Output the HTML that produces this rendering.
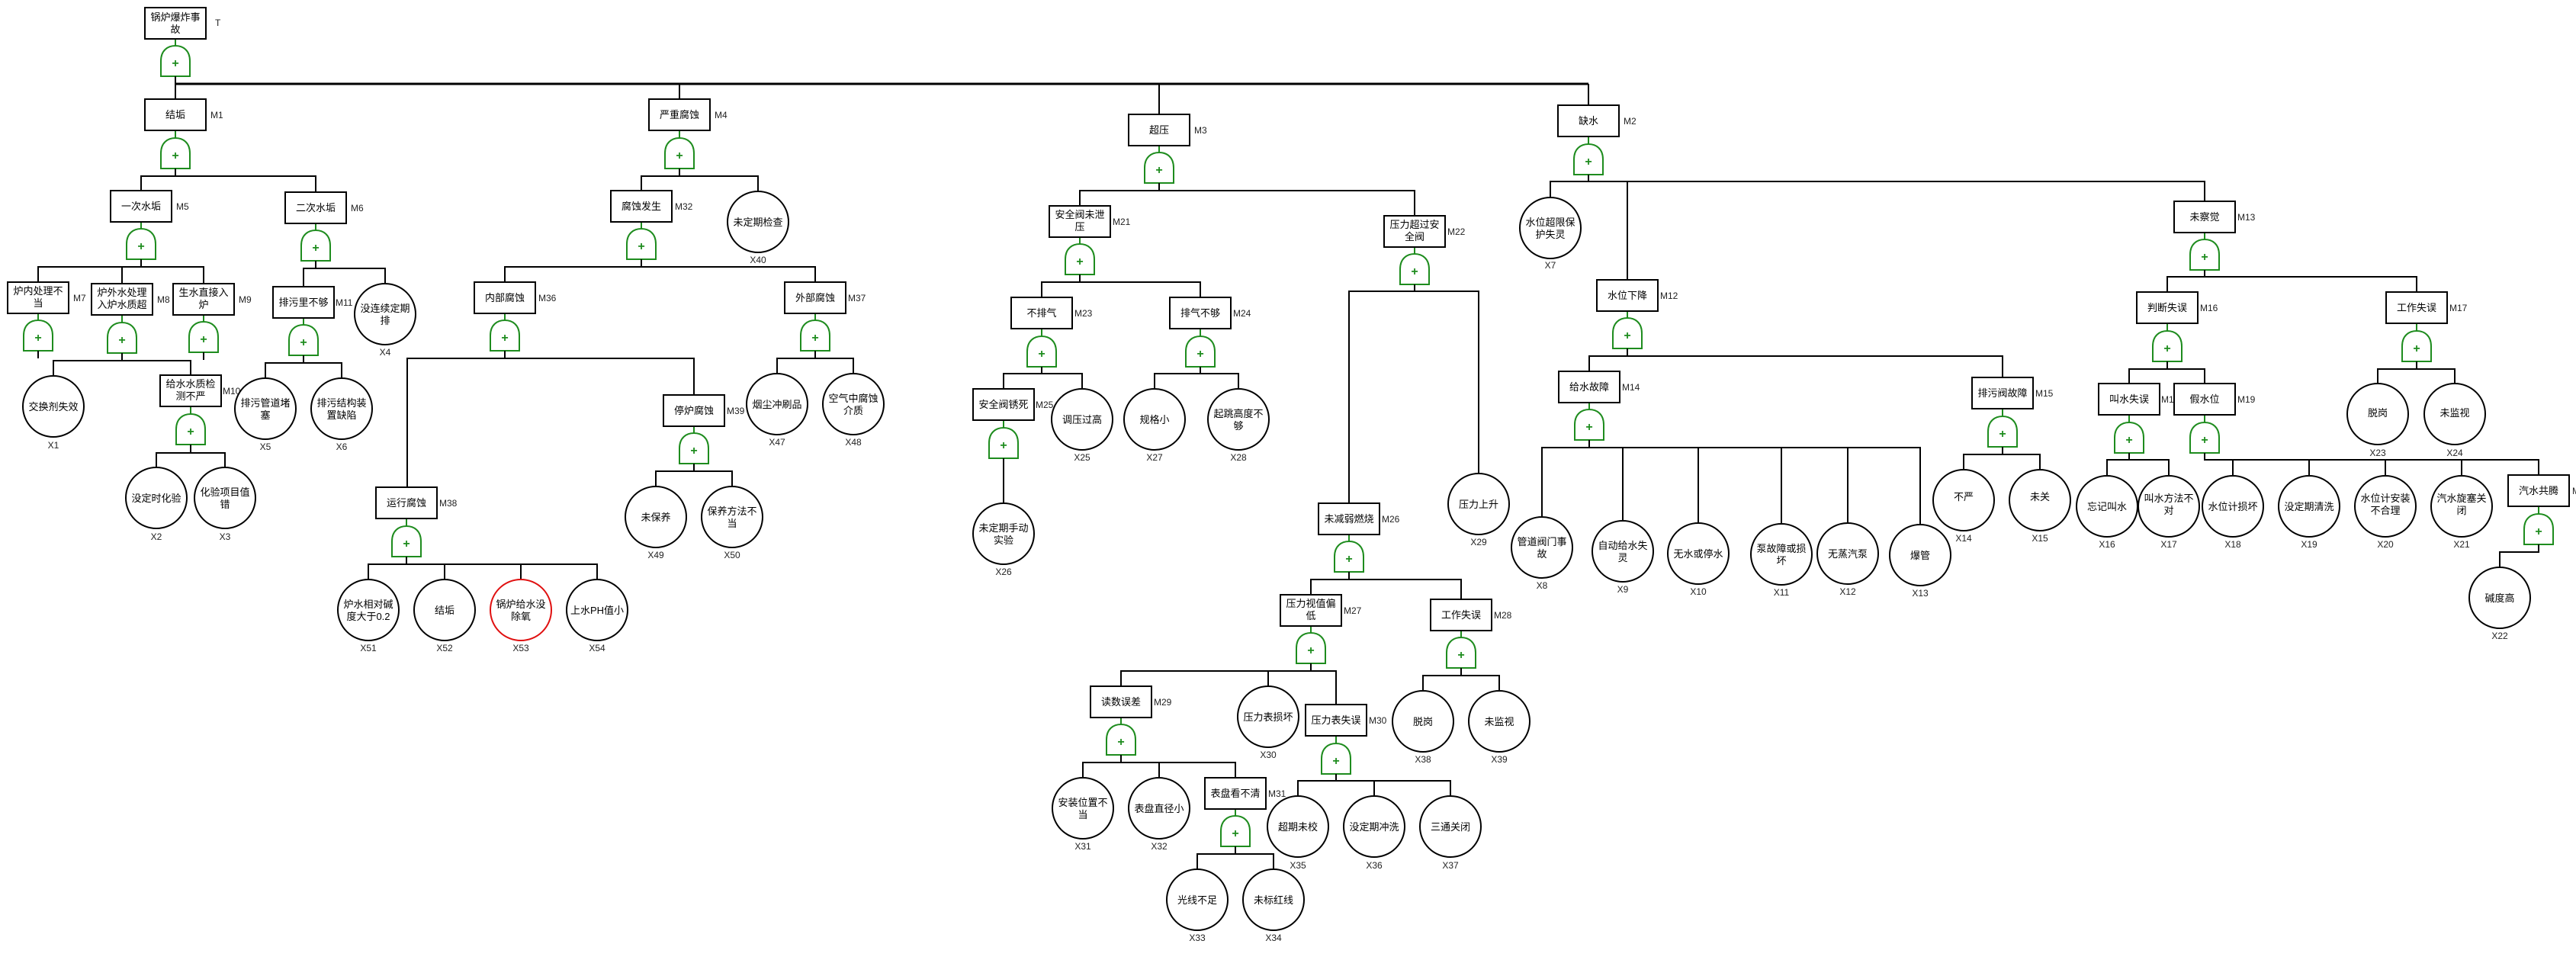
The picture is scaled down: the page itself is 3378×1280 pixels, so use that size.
<!DOCTYPE html>
<html><head><meta charset="utf-8"><style>
html,body{margin:0;padding:0;background:#fff;}
svg{display:block;font-family:"Liberation Sans","Noto Sans CJK SC",sans-serif;}
.b{fill:#fff;stroke:#000;stroke-width:2;}
.c{fill:#fff;stroke:#000;stroke-width:2;}
.e{fill:none;stroke:#000;stroke-width:2;}
.g{fill:#fff;stroke:#1e8c1e;stroke-width:2;}
.gl{stroke:#1e8c1e;stroke-width:2;}
.p{fill:#1e8c1e;font-size:16px;font-weight:bold;text-anchor:middle;}
.t{font-size:13px;text-anchor:middle;fill:#000;}
.l{font-size:12px;fill:#222;}
.x{font-size:12px;fill:#222;text-anchor:middle;}
</style></head><body>
<svg width="3378" height="1280" viewBox="0 0 3378 1280" xmlns="http://www.w3.org/2000/svg">
<defs>
<g id="gate"><line class="gl" x1="0" y1="-10" x2="0" y2="0"/><path class="g" d="M-19,40 V20 C-19,6 -10,0 0,0 C10,0 19,6 19,20 V40 Z"/><text class="p" x="0" y="28">+</text><line class="e" x1="0" y1="40" x2="0" y2="50"/></g>
</defs>

<!-- ===== edges ===== -->
<g class="e">
<line x1="230" y1="110" x2="2083" y2="110" style="stroke-width:3"/>
<line x1="230" y1="110" x2="230" y2="130"/>
<line x1="891" y1="110" x2="891" y2="130"/>
<line x1="1520" y1="110" x2="1520" y2="150"/>
<line x1="2083" y1="110" x2="2083" y2="138"/>
<!-- M1 -->
<polyline points="185,250 185,231 414,231 414,252"/>
<!-- M5 -->
<polyline points="50,370 50,350 267,350 267,372"/>
<line x1="160" y1="350" x2="160" y2="372"/>
<!-- M8 -->
<polyline points="70,493 70,473 250,473 250,492"/>
<!-- M10 -->
<polyline points="205,613 205,594 295,594 295,613"/>
<!-- M6 -->
<polyline points="398,376 398,352 505,352 505,372"/>
<!-- M11 -->
<polyline points="348,496 348,476 448,476 448,496"/>
<!-- M4 -->
<polyline points="841,250 841,231 994,231 994,251"/>
<!-- M32 -->
<polyline points="662,370 662,350 1069,350 1069,370"/>
<!-- M36 -->
<polyline points="534,639 534,470 910,470 910,518"/>
<!-- M37 -->
<polyline points="1019,490 1019,470 1119,470 1119,490"/>
<!-- M39 -->
<polyline points="860,638 860,618 960,618 960,638"/>
<!-- M38 -->
<polyline points="483,760 483,740 783,740 783,760"/>
<line x1="583" y1="740" x2="583" y2="760"/><line x1="683" y1="740" x2="683" y2="760"/>
<!-- M3 -->
<polyline points="1416,270 1416,250 1855,250 1855,283"/>
<!-- M21 -->
<polyline points="1366,390 1366,370 1574,370 1574,390"/>
<!-- M23 -->
<polyline points="1316,510 1316,490 1419,490 1419,510"/>
<!-- M24 -->
<polyline points="1514,510 1514,490 1624,490 1624,510"/>
<!-- M25 -->
<line x1="1316" y1="611" x2="1316" y2="660"/>
<!-- M22 -->
<polyline points="1769,660 1769,382 1939,382 1939,621"/>
<!-- M26 -->
<polyline points="1719,780 1719,760 1916,760 1916,786"/>
<!-- M27 -->
<polyline points="1470,900 1470,880 1752,880 1752,924"/>
<line x1="1663" y1="880" x2="1663" y2="900"/>
<!-- M28 -->
<polyline points="1866,906 1866,886 1966,886 1966,906"/>
<!-- M29 -->
<polyline points="1420,1020 1420,1000 1620,1000 1620,1020"/>
<line x1="1520" y1="1000" x2="1520" y2="1020"/>
<!-- M31 -->
<polyline points="1570,1140 1570,1120 1670,1120 1670,1140"/>
<!-- M30 -->
<polyline points="1702,1044 1702,1024 1902,1024 1902,1044"/>
<line x1="1802" y1="1024" x2="1802" y2="1044"/>
<!-- M2 -->
<polyline points="2033,259 2033,238 2891,238 2891,264"/>
<line x1="2134" y1="238" x2="2134" y2="367"/>
<!-- M12 -->
<polyline points="2084,487 2084,467 2626,467 2626,495"/>
<!-- M14 -->
<polyline points="2022,678 2022,587 2518,587 2518,688"/>
<line x1="2128" y1="587" x2="2128" y2="683"/>
<line x1="2227" y1="587" x2="2227" y2="686"/>
<line x1="2336" y1="587" x2="2336" y2="687"/>
<line x1="2423" y1="587" x2="2423" y2="686"/>
<!-- M15 -->
<polyline points="2575,616 2575,596 2675,596 2675,616"/>
<!-- M13 -->
<polyline points="2842,383 2842,363 3169,363 3169,383"/>
<!-- M16 -->
<polyline points="2792,503 2792,484 2891,484 2891,503"/>
<!-- M17 -->
<polyline points="3118,503 3118,484 3219,484 3219,503"/>
<!-- M18 -->
<polyline points="2763,624 2763,603 2844,603 2844,624"/>
<!-- M19 -->
<polyline points="2891,603 3329,603 3329,623"/>
<line x1="2928" y1="603" x2="2928" y2="624"/>
<line x1="3028" y1="603" x2="3028" y2="624"/>
<line x1="3128" y1="603" x2="3128" y2="624"/>
<line x1="3228" y1="603" x2="3228" y2="624"/>
<!-- M20 -->
<polyline points="3329,714 3329,724 3278,724 3278,744"/>
</g>

<!-- ===== gates ===== -->
<use href="#gate" x="230" y="60"/>
<use href="#gate" x="230" y="181"/>
<use href="#gate" x="185" y="300"/>
<use href="#gate" x="414" y="302"/>
<use href="#gate" x="50" y="420"/>
<use href="#gate" x="160" y="423"/>
<use href="#gate" x="267" y="422"/>
<use href="#gate" x="250" y="543"/>
<use href="#gate" x="398" y="426"/>
<use href="#gate" x="891" y="181"/>
<use href="#gate" x="841" y="300"/>
<use href="#gate" x="662" y="420"/>
<use href="#gate" x="1069" y="420"/>
<use href="#gate" x="910" y="568"/>
<use href="#gate" x="533" y="690"/>
<use href="#gate" x="1520" y="200"/>
<use href="#gate" x="1416" y="320"/>
<use href="#gate" x="1855" y="333"/>
<use href="#gate" x="1366" y="441"/>
<use href="#gate" x="1574" y="441"/>
<use href="#gate" x="1316" y="561"/>
<use href="#gate" x="1769" y="710"/>
<use href="#gate" x="1719" y="830"/>
<use href="#gate" x="1916" y="836"/>
<use href="#gate" x="1470" y="950"/>
<use href="#gate" x="1620" y="1070"/>
<use href="#gate" x="1752" y="975"/>
<use href="#gate" x="2083" y="189"/>
<use href="#gate" x="2134" y="417"/>
<use href="#gate" x="2084" y="537"/>
<use href="#gate" x="2626" y="546"/>
<use href="#gate" x="2891" y="314"/>
<use href="#gate" x="2842" y="434"/>
<use href="#gate" x="3169" y="434"/>
<use href="#gate" x="2792" y="554"/>
<use href="#gate" x="2891" y="554"/>
<use href="#gate" x="3329" y="674"/>

<!-- ===== boxes ===== -->
<g>
<rect class="b" x="190" y="10" width="80" height="41"/><text class="t" x="230" y="27">锅炉爆炸事</text><text class="t" x="230" y="43">故</text><text class="l" x="282" y="34">T</text>

<rect class="b" x="190" y="130" width="80" height="41"/><text class="t" x="230" y="155">结垢</text><text class="l" x="276" y="155">M1</text>
<rect class="b" x="145" y="250" width="80" height="41"/><text class="t" x="185" y="275">一次水垢</text><text class="l" x="231" y="275">M5</text>
<rect class="b" x="374" y="252" width="80" height="41"/><text class="t" x="414" y="277">二次水垢</text><text class="l" x="460" y="277">M6</text>
<rect class="b" x="10" y="370" width="80" height="41"/><text class="t" x="50" y="386">炉内处理不</text><text class="t" x="50" y="402">当</text><text class="l" x="96" y="395">M7</text>
<rect class="b" x="120" y="372" width="80" height="41"/><text class="t" x="160" y="388">炉外水处理</text><text class="t" x="160" y="404">入炉水质超</text><text class="l" x="206" y="397">M8</text>
<rect class="b" x="227" y="372" width="80" height="41"/><text class="t" x="267" y="388">生水直接入</text><text class="t" x="267" y="404">炉</text><text class="l" x="313" y="397">M9</text>
<rect class="b" x="210" y="492" width="80" height="41"/><text class="t" x="250" y="508">给水水质检</text><text class="t" x="250" y="524">测不严</text><text class="l" x="292" y="517">M10</text>
<rect class="b" x="358" y="376" width="80" height="41"/><text class="t" x="398" y="401">排污里不够</text><text class="l" x="440" y="401">M11</text>

<rect class="b" x="851" y="130" width="80" height="41"/><text class="t" x="891" y="155">严重腐蚀</text><text class="l" x="937" y="155">M4</text>
<rect class="b" x="801" y="250" width="80" height="41"/><text class="t" x="841" y="275">腐蚀发生</text><text class="l" x="885" y="275">M32</text>
<rect class="b" x="622" y="370" width="80" height="41"/><text class="t" x="662" y="395">内部腐蚀</text><text class="l" x="706" y="395">M36</text>
<rect class="b" x="1029" y="370" width="80" height="41"/><text class="t" x="1069" y="395">外部腐蚀</text><text class="l" x="1112" y="395">M37</text>
<rect class="b" x="870" y="518" width="80" height="41"/><text class="t" x="910" y="543">停炉腐蚀</text><text class="l" x="953" y="543">M39</text>
<rect class="b" x="493" y="639" width="80" height="41"/><text class="t" x="533" y="664">运行腐蚀</text><text class="l" x="576" y="664">M38</text>

<rect class="b" x="1480" y="150" width="80" height="41"/><text class="t" x="1520" y="175">超压</text><text class="l" x="1566" y="175">M3</text>
<rect class="b" x="1376" y="270" width="80" height="41"/><text class="t" x="1416" y="286">安全阀未泄</text><text class="t" x="1416" y="302">压</text><text class="l" x="1459" y="295">M21</text>
<rect class="b" x="1815" y="283" width="80" height="41"/><text class="t" x="1855" y="299">压力超过安</text><text class="t" x="1855" y="315">全阀</text><text class="l" x="1898" y="308">M22</text>
<rect class="b" x="1326" y="390" width="80" height="41"/><text class="t" x="1366" y="415">不排气</text><text class="l" x="1409" y="415">M23</text>
<rect class="b" x="1534" y="390" width="80" height="41"/><text class="t" x="1574" y="415">排气不够</text><text class="l" x="1617" y="415">M24</text>
<rect class="b" x="1276" y="510" width="80" height="41"/><text class="t" x="1316" y="535">安全阀锈死</text><text class="l" x="1358" y="535">M25</text>
<rect class="b" x="1729" y="660" width="80" height="41"/><text class="t" x="1769" y="685">未减弱燃烧</text><text class="l" x="1812" y="685">M26</text>
<rect class="b" x="1679" y="780" width="80" height="41"/><text class="t" x="1719" y="796">压力视值偏</text><text class="t" x="1719" y="812">低</text><text class="l" x="1762" y="805">M27</text>
<rect class="b" x="1876" y="786" width="80" height="41"/><text class="t" x="1916" y="811">工作失误</text><text class="l" x="1959" y="811">M28</text>
<rect class="b" x="1430" y="900" width="80" height="41"/><text class="t" x="1470" y="925">读数误差</text><text class="l" x="1513" y="925">M29</text>
<rect class="b" x="1712" y="924" width="80" height="41"/><text class="t" x="1752" y="949">压力表失误</text><text class="l" x="1795" y="949">M30</text>
<rect class="b" x="1580" y="1020" width="80" height="41"/><text class="t" x="1620" y="1045">表盘看不清</text><text class="l" x="1663" y="1045">M31</text>

<rect class="b" x="2043" y="138" width="80" height="41"/><text class="t" x="2083" y="163">缺水</text><text class="l" x="2129" y="163">M2</text>
<rect class="b" x="2094" y="367" width="80" height="41"/><text class="t" x="2134" y="392">水位下降</text><text class="l" x="2177" y="392">M12</text>
<rect class="b" x="2044" y="487" width="80" height="41"/><text class="t" x="2084" y="512">给水故障</text><text class="l" x="2127" y="512">M14</text>
<rect class="b" x="2586" y="495" width="80" height="41"/><text class="t" x="2626" y="520">排污阀故障</text><text class="l" x="2669" y="520">M15</text>
<rect class="b" x="2851" y="264" width="80" height="41"/><text class="t" x="2891" y="289">未察觉</text><text class="l" x="2934" y="289">M13</text>
<rect class="b" x="2802" y="383" width="80" height="41"/><text class="t" x="2842" y="408">判断失误</text><text class="l" x="2885" y="408">M16</text>
<rect class="b" x="3129" y="383" width="80" height="41"/><text class="t" x="3169" y="408">工作失误</text><text class="l" x="3212" y="408">M17</text>
<rect class="b" x="2752" y="503" width="80" height="41"/><text class="t" x="2792" y="528">叫水失误</text><text class="l" x="2834" y="528">M18</text>
<rect class="b" x="2851" y="503" width="80" height="41"/><text class="t" x="2891" y="528">假水位</text><text class="l" x="2934" y="528">M19</text>
<rect class="b" x="3289" y="623" width="80" height="41"/><text class="t" x="3329" y="648">汽水共腾</text><text class="l" x="3373" y="648">M20</text>
</g>

<!-- ===== circles ===== -->
<g>
<circle class="c" cx="70" cy="533" r="40"/><text class="t" x="70" y="538">交换剂失效</text><text class="x" x="70" y="588">X1</text>
<circle class="c" cx="205" cy="653" r="40"/><text class="t" x="205" y="658">没定时化验</text><text class="x" x="205" y="708">X2</text>
<circle class="c" cx="295" cy="653" r="40"/><text class="t" x="295" y="650">化验项目值</text><text class="t" x="295" y="666">错</text><text class="x" x="295" y="708">X3</text>
<circle class="c" cx="505" cy="412" r="40"/><text class="t" x="505" y="409">没连续定期</text><text class="t" x="505" y="425">排</text><text class="x" x="505" y="466">X4</text>
<circle class="c" cx="348" cy="536" r="40"/><text class="t" x="348" y="533">排污管道堵</text><text class="t" x="348" y="549">塞</text><text class="x" x="348" y="590">X5</text>
<circle class="c" cx="448" cy="536" r="40"/><text class="t" x="448" y="533">排污结构装</text><text class="t" x="448" y="549">置缺陷</text><text class="x" x="448" y="590">X6</text>

<circle class="c" cx="994" cy="291" r="40"/><text class="t" x="994" y="296">未定期检查</text><text class="x" x="994" y="345">X40</text>
<circle class="c" cx="1019" cy="530" r="40"/><text class="t" x="1019" y="535">烟尘冲刷品</text><text class="x" x="1019" y="584">X47</text>
<circle class="c" cx="1119" cy="530" r="40"/><text class="t" x="1119" y="527">空气中腐蚀</text><text class="t" x="1119" y="543">介质</text><text class="x" x="1119" y="584">X48</text>
<circle class="c" cx="860" cy="678" r="40"/><text class="t" x="860" y="683">未保养</text><text class="x" x="860" y="732">X49</text>
<circle class="c" cx="960" cy="678" r="40"/><text class="t" x="960" y="675">保养方法不</text><text class="t" x="960" y="691">当</text><text class="x" x="960" y="732">X50</text>
<circle class="c" cx="483" cy="800" r="40"/><text class="t" x="483" y="797">炉水相对碱</text><text class="t" x="483" y="813">度大于0.2</text><text class="x" x="483" y="854">X51</text>
<circle class="c" cx="583" cy="800" r="40"/><text class="t" x="583" y="805">结垢</text><text class="x" x="583" y="854">X52</text>
<circle class="c" cx="683" cy="800" r="40" style="stroke:#e01010"/><text class="t" x="683" y="797">锅炉给水没</text><text class="t" x="683" y="813">除氧</text><text class="x" x="683" y="854">X53</text>
<circle class="c" cx="783" cy="800" r="40"/><text class="t" x="783" y="805">上水PH值小</text><text class="x" x="783" y="854">X54</text>

<circle class="c" cx="1419" cy="550" r="40"/><text class="t" x="1419" y="555">调压过高</text><text class="x" x="1419" y="604">X25</text>
<circle class="c" cx="1514" cy="550" r="40"/><text class="t" x="1514" y="555">规格小</text><text class="x" x="1514" y="604">X27</text>
<circle class="c" cx="1624" cy="550" r="40"/><text class="t" x="1624" y="547">起跳高度不</text><text class="t" x="1624" y="563">够</text><text class="x" x="1624" y="604">X28</text>
<circle class="c" cx="1316" cy="700" r="40"/><text class="t" x="1316" y="697">未定期手动</text><text class="t" x="1316" y="713">实验</text><text class="x" x="1316" y="754">X26</text>
<circle class="c" cx="1939" cy="661" r="40"/><text class="t" x="1939" y="666">压力上升</text><text class="x" x="1939" y="715">X29</text>
<circle class="c" cx="1663" cy="940" r="40"/><text class="t" x="1663" y="945">压力表损坏</text><text class="x" x="1663" y="994">X30</text>
<circle class="c" cx="1866" cy="946" r="40"/><text class="t" x="1866" y="951">脱岗</text><text class="x" x="1866" y="1000">X38</text>
<circle class="c" cx="1966" cy="946" r="40"/><text class="t" x="1966" y="951">未监视</text><text class="x" x="1966" y="1000">X39</text>
<circle class="c" cx="1420" cy="1060" r="40"/><text class="t" x="1420" y="1057">安装位置不</text><text class="t" x="1420" y="1073">当</text><text class="x" x="1420" y="1114">X31</text>
<circle class="c" cx="1520" cy="1060" r="40"/><text class="t" x="1520" y="1065">表盘直径小</text><text class="x" x="1520" y="1114">X32</text>
<circle class="c" cx="1570" cy="1180" r="40"/><text class="t" x="1570" y="1185">光线不足</text><text class="x" x="1570" y="1234">X33</text>
<circle class="c" cx="1670" cy="1180" r="40"/><text class="t" x="1670" y="1185">未标红线</text><text class="x" x="1670" y="1234">X34</text>
<circle class="c" cx="1702" cy="1084" r="40"/><text class="t" x="1702" y="1089">超期未校</text><text class="x" x="1702" y="1139">X35</text>
<circle class="c" cx="1802" cy="1084" r="40"/><text class="t" x="1802" y="1089">没定期冲洗</text><text class="x" x="1802" y="1139">X36</text>
<circle class="c" cx="1902" cy="1084" r="40"/><text class="t" x="1902" y="1089">三通关闭</text><text class="x" x="1902" y="1139">X37</text>

<circle class="c" cx="2033" cy="299" r="40"/><text class="t" x="2033" y="296">水位超限保</text><text class="t" x="2033" y="312">护失灵</text><text class="x" x="2033" y="352">X7</text>
<circle class="c" cx="2022" cy="718" r="40"/><text class="t" x="2022" y="715">管道阀门事</text><text class="t" x="2022" y="731">故</text><text class="x" x="2022" y="772">X8</text>
<circle class="c" cx="2128" cy="723" r="40"/><text class="t" x="2128" y="720">自动给水失</text><text class="t" x="2128" y="736">灵</text><text class="x" x="2128" y="777">X9</text>
<circle class="c" cx="2227" cy="726" r="40"/><text class="t" x="2227" y="731">无水或停水</text><text class="x" x="2227" y="780">X10</text>
<circle class="c" cx="2336" cy="727" r="40"/><text class="t" x="2336" y="724">泵故障或损</text><text class="t" x="2336" y="740">坏</text><text class="x" x="2336" y="781">X11</text>
<circle class="c" cx="2423" cy="726" r="40"/><text class="t" x="2423" y="731">无蒸汽泵</text><text class="x" x="2423" y="780">X12</text>
<circle class="c" cx="2518" cy="728" r="40"/><text class="t" x="2518" y="733">爆管</text><text class="x" x="2518" y="782">X13</text>
<circle class="c" cx="2575" cy="656" r="40"/><text class="t" x="2575" y="656">不严</text><text class="x" x="2575" y="710">X14</text>
<circle class="c" cx="2675" cy="656" r="40"/><text class="t" x="2675" y="656">未关</text><text class="x" x="2675" y="710">X15</text>
<circle class="c" cx="3118" cy="543" r="40"/><text class="t" x="3118" y="546">脱岗</text><text class="x" x="3118" y="598">X23</text>
<circle class="c" cx="3219" cy="543" r="40"/><text class="t" x="3219" y="546">未监视</text><text class="x" x="3219" y="598">X24</text>
<circle class="c" cx="2763" cy="664" r="40"/><text class="t" x="2763" y="669">忘记叫水</text><text class="x" x="2763" y="718">X16</text>
<circle class="c" cx="2844" cy="664" r="40"/><text class="t" x="2844" y="658">叫水方法不</text><text class="t" x="2844" y="674">对</text><text class="x" x="2844" y="718">X17</text>
<circle class="c" cx="2928" cy="664" r="40"/><text class="t" x="2928" y="669">水位计损坏</text><text class="x" x="2928" y="718">X18</text>
<circle class="c" cx="3028" cy="664" r="40"/><text class="t" x="3028" y="669">没定期清洗</text><text class="x" x="3028" y="718">X19</text>
<circle class="c" cx="3128" cy="664" r="40"/><text class="t" x="3128" y="658">水位计安装</text><text class="t" x="3128" y="674">不合理</text><text class="x" x="3128" y="718">X20</text>
<circle class="c" cx="3228" cy="664" r="40"/><text class="t" x="3228" y="658">汽水旋塞关</text><text class="t" x="3228" y="674">闭</text><text class="x" x="3228" y="718">X21</text>
<circle class="c" cx="3278" cy="784" r="40"/><text class="t" x="3278" y="789">碱度高</text><text class="x" x="3278" y="838">X22</text>
</g>
</svg>
</body></html>
